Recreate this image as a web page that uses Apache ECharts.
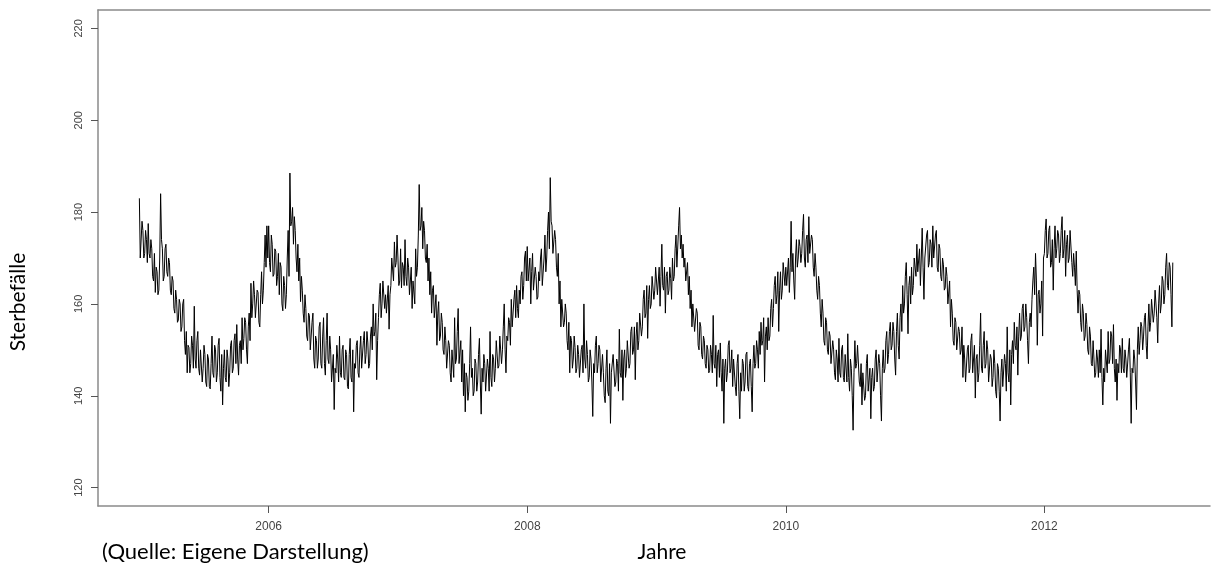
<!DOCTYPE html>
<html>
<head>
<meta charset="utf-8">
<script src="https://cdn.jsdelivr.net/npm/echarts@6/dist/echarts.min.js"></script>
<style>
  html, body { margin: 0; padding: 0; background: #fff; overflow: hidden; }
  #chart { width: 1211px; height: 565px; }
</style>
</head>
<body>
<div id="chart"></div>
<script>
// Tägliche Sterbefälle, je Kalenderjahr in 73 Fenstern zu 5 Tagen.
// aJJJJ: Wert am Fensteranfang, bJJJJ: Gegenwert in der Fenstermitte.
const a2005 = [183,170,176,171,174,177.5,170,172,165,162.5,167,163,184,172,166,173,166,169,162,165,158,161,156.5,160,155,161,149,145,150.5,147,151,159.5,146,154,144.5,150,146,149,142,148,141.5,153,144,150,145,152.5,141,138,150,143,148,145,152,146,153.5,155.5,144.5,152,157,152.5,156,147,158,164.5,160,162,157,162.5,155,167,163,175,177];
const b2005 = [170,178,170,176,169,171,174,166,171,168,162,170,174,165,172,167,170,163,166,159,163,156,161,154,160,152,154,151,145,153,146,148,152,146,150,143,151,143,149,142,147,145,151,143,151,144,149,146,144,150,142,151,145,152,147,148,151,147,150,157,150,155,152,157,165,157,163,156,162,160,169,168,170];
const a2006 = [177,167,173,166.5,171.5,166,162,168,158.5,164,162,176,188.5,178,173,176,167,165,160.5,163,156,159,152,157.5,150,158,146,152,148,156,146,157,144.5,158,147,150,143,137,145,148,153,144,151,143.5,149,141.5,152.5,143,136.5,146,152,144,153,146,154,149,151.5,147,155,160,154,143.5,157,164.5,160,165,162,158,154.5,164,170,173.5,169];
const b2006 = [169,175,166,172,164,171,169,160,166,159,170,166,177,181,179,170,173,170,166,158,162,153,158,150,156,148,153,146,155,147,153,147,152,148,153,143,149,146,151,143,145,150,144,150,142,149,144,150,147,151,145,150,146,152,147,154,146,153,150,153,158,152,162,157,165,159,158,164,162,170,165,168,175];
const a2007 = [170,165,163.5,168,174,164,168,162,159,165,172,168,186,177,172,176,169,165,162,158,164,157,151,160.5,153,156,149,152,146,151,143,150,157,148,159,147,143,140,136.5,144,141,155,146,141,147,143,152.5,136,143,147,141,146,154,142,148,146,152,146.5,153,150,160,145,152,156,161,155,163,164,157,160,167,164,171.5];
const b2007 = [164,172,169,164,166,170,162,168,165,160,166,175,176,181,178,170,173,170,167,163,157,162,158,152,158,150,155,146,152,145,150,144,147,154,147,152,150,147,145,139,147,144,140,148,141,149,143,146,149,141,148,141,144,149,143,152,146,153,147,155,150,153,157,151,155,161,157,159,163,166,161,170,165];
const a2008 = [172.5,165,160,171,163,166,161.5,165,172,164,175,170,180,187.5,177,171,174,166,160,155,161,156,158,150,145,152,148,150.5,146,149,144,151,160,146,149,144,148,135.5,145,153,147,150,143,145,138.5,150,140,134,145,149,143,147,154.5,144,139,150,146,152,147,155,150,143.5,156,152,158,155,163,158,152.5,164,160,166,163];
const b2008 = [165,170,167,163,168,161,167,170,164,170,167,176,172,178,171,176,168,171,165,161,155,160,152,156,153,146,153,145,151,144,150,145,148,152,143,150,143,147,151,145,151,143,149,140,146,141,147,145,149,142,148,141,145,150,148,144,152,146,154,149,155,153,150,158,153,161,157,164,161,159,166,161,168];
const a2009 = [168,162,159.5,173,163,158,167,163,165.5,170,166,175,168,181,175,173,170,165,162,159,155,160,154,158,150,155,148,152,146,150,145.5,149,157.5,146,142,150,151.5,141,134,148,145,152,146,142,148,140,149,135,141,147,143,149.5,141,148,136.5,151,147,150,154,156,152,143,155,157,153,161,159,166,162,154,167,163,169];
const b2009 = [162,168,166,164,168,166,162,168,161,165,172,168,177,172,170,168,165,169,166,163,160,154,159,151,156,149,153,147,151,145,151,145,147,151,149,144,145,148,146,143,151,145,150,148,142,147,141,145,148,141,149,142,147,142,147,146,152,146,149,151,157,153,150,152,159,155,164,160,167,163,161,169,164];
const a2010 = [168,164,162.5,178,171,161,174,170,172.5,171,179.5,168,175,179,171,174,166,168,161,164,155,158,151,156,149,153,147,150,143.5,148,152.5,144,151,143,149,153.5,141,146,132.5,152,147,151,142,138,145,140,149,141,135,146,142,150,143,147,134.5,150,146,154,149,156,151,154,144.5,158,148,160,164,160,169,153.5,166,168,164];
const b2010 = [164,170,168,167,165,170,168,174,169,176,170,174,169,171,175,168,171,163,166,158,161,152,157,150,154,147,152,145,150,143,145,150,144,149,143,144,148,140,145,146,151,143,147,145,139,147,141,146,144,141,148,143,149,140,146,145,152,147,154,150,156,148,154,151,157,154,158,166,162,164,160,162,170];
const a2011 = [170,173,167,164,176.5,161,170,176,169,173,177,170,176,167,172,165,168.5,163.5,166,160,155,158,151,156,150,154,150,144,148,143,151,146,153.5,145,139.5,149,145,158,145,154,147,150,143,148,144,147,139.5,146,134.5,148,142,147,155,143,138,152,156,150,144.5,158,153,160,155,157,147,158,161,168,171,151,163,160,153];
const b2011 = [166,167,172,170,168,170,175,168,174,168,170,175,168,173,166,170,163,168,160,165,161,152,157,150,155,149,155,151,143,150,145,152,145,151,148,143,151,146,151,146,152,143,149,142,150,141,147,141,145,142,149,141,145,150,149,147,151,155,153,152,159,154,160,152,156,155,165,162,165,162,158,165,170];
const a2012 = [171,178.5,171,177,169,163,177,172,175,171,179,172,166,175,170,176,166,168,171.5,158,162,154,158,153,155.5,149,153,146.5,148,145,148,150,154.5,138,143,150,154,148,153,155.5,143,139,145,150,152.5,145,148,144,152.5,134,145,148,137,155,152,155,153,158,148,160,156,161,158,163,151.5,164,160,165,162,171,163,168,155];
const b2012 = [176,170,176,168,174,172,170,176,169,176,170,176,173,169,176,169,171,164,163,163,156,160,152,158,150,155,147,152,144,150,144,145,144,146,150,145,147,154,147,146,148,147,151,145,146,150,144,150,145,146,150,143,150,149,156,150,157,151,155,154,161,156,163,157,160,158,166,160,168,164,169,162,169];

const years = [2005, 2006, 2007, 2008, 2009, 2010, 2011, 2012];
const startValues = [a2005, a2006, a2007, a2008, a2009, a2010, a2011, a2012];
const midValues = [b2005, b2006, b2007, b2008, b2009, b2010, b2011, b2012];

// Achsenbeschriftung
const xTicks = [2006, 2008, 2010, 2012];
const yTicks = [120, 140, 160, 180, 200, 220];

// Zeitreihe mit Jahr + Jahresanteil als x-Wert
const series = [];
years.forEach((year, k) => {
  const a = startValues[k], b = midValues[k];
  const n = a.length;
  for (let i = 0; i < n; i++) {
    series.push([year + (2 * i) / (2 * n), a[i]]);
    series.push([year + (2 * i + 1) / (2 * n), b[i]]);
  }
});

const tickFont = '"Liberation Sans", Arial, sans-serif';
const textFont = 'Lato, "Open Sans", sans-serif';
const frame = { color: '#8a8a8a', width: 1.5 };

// sichtbarer Ausschnitt der x-Achse (rechter Rahmen liegt knapp außerhalb)
const xMin = 2004.68, xMax = 2013.281;

const chart = echarts.init(document.getElementById('chart'), null, { renderer: 'canvas' });
chart.setOption({
  animation: false,
  backgroundColor: '#ffffff',
  grid: { left: 98, top: 10, width: 1112, height: 496, show: false },
  xAxis: [
    {
      type: 'value',
      min: xMin, max: xMax,
      splitLine: { show: false },
      axisLine: { show: true, onZero: false, lineStyle: frame },
      axisTick: { show: true, length: 7, customValues: xTicks, lineStyle: { color: '#555' } },
      axisLabel: {
        customValues: xTicks, margin: 15, fontSize: 12, color: '#444', fontFamily: tickFont,
        formatter: (v) => String(v)
      }
    },
    {
      // obere Rahmenlinie
      type: 'value', position: 'top',
      min: xMin, max: xMax,
      splitLine: { show: false },
      axisLine: { show: true, onZero: false, lineStyle: frame },
      axisTick: { show: false },
      axisLabel: { show: false }
    }
  ],
  yAxis: {
    type: 'value',
    min: 116, max: 224,
    splitLine: { show: false },
    axisLine: { show: true, onZero: false, lineStyle: frame },
    axisTick: { show: true, length: 7, customValues: yTicks, lineStyle: { color: '#555' } },
    axisLabel: {
      customValues: yTicks, rotate: 90, margin: 14, fontSize: 11, color: '#444', fontFamily: tickFont,
      formatter: (v) => String(v)
    }
  },
  series: [{
    type: 'line',
    xAxisIndex: 0,
    data: series,
    showSymbol: false,
    symbol: 'none',
    clip: true,
    lineStyle: { color: '#000', width: 1 }
  }],
  graphic: [
    {
      type: 'text', x: 18, y: 302, rotation: Math.PI / 2,
      style: { text: 'Sterbefälle', fill: '#000', font: '21px ' + textFont, textAlign: 'center', textVerticalAlign: 'middle' }
    },
    {
      type: 'text', x: 102, y: 552,
      style: { text: '(Quelle: Eigene Darstellung)', fill: '#000', font: '22px ' + textFont, textAlign: 'left', textVerticalAlign: 'middle' }
    },
    {
      type: 'text', x: 662, y: 552,
      style: { text: 'Jahre', fill: '#000', font: '21px ' + textFont, textAlign: 'center', textVerticalAlign: 'middle' }
    }
  ]
});
</script>
</body>
</html>
